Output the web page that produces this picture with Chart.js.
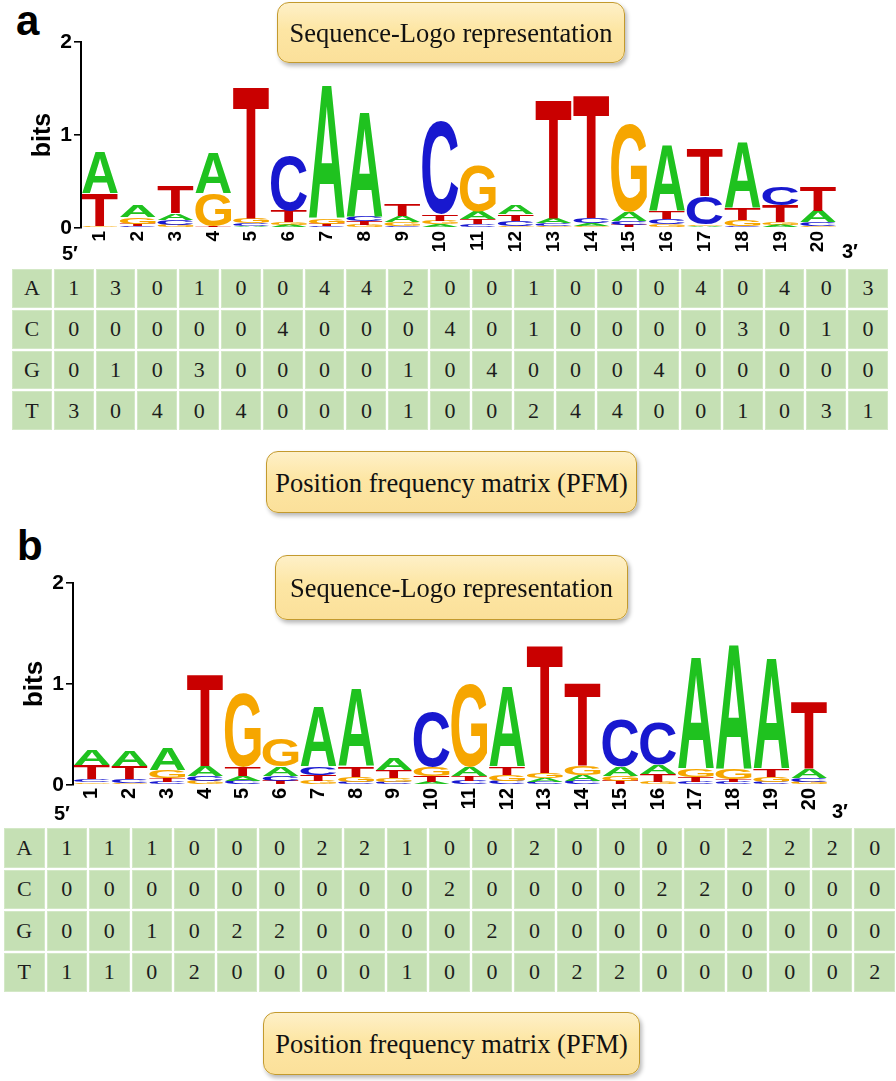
<!DOCTYPE html>
<html>
<head>
<meta charset="utf-8">
<script src="https://cdn.jsdelivr.net/npm/chart.js@4.4.0/dist/chart.umd.min.js"></script>
<style>
  html, body { margin: 0; padding: 0; background: #fff; }
  #wrap { position: relative; width: 896px; height: 1081px; overflow: hidden; background: #fff; }
  .abs { position: absolute; }
  .panel { font-family: "Liberation Sans", Arial, sans-serif; font-weight: bold; font-size: 42px; line-height: 1; color: #000; }
  .prime { font-family: "Liberation Sans", Arial, sans-serif; font-weight: bold; font-size: 20px; line-height: 1; color: #000; white-space: nowrap; }
  .box { box-sizing: border-box; border: 1.5px solid #c39a2e; border-radius: 12px;
         background: linear-gradient(to bottom, #fef0c8 0%, #fde6a4 45%, #fbe09a 100%);
         box-shadow: 2px 3px 4px rgba(0,0,0,0.28);
         display: flex; align-items: center; justify-content: center; padding-top: 2px;
         font-family: "Liberation Serif", "Times New Roman", serif; font-size: 26.5px; color: #111; white-space: nowrap; }
  .grid { display: grid; grid-template-columns: repeat(21, 1fr); grid-template-rows: repeat(4, 1fr); gap: 2px; background: #fff; }
  .cell { background: #c5e0b4; box-shadow: inset 0 0 0 1px #d3e8c6; display: flex; align-items: center; justify-content: center;
          font-family: "Liberation Serif", "Times New Roman", serif; font-size: 22px; color: #1c1c1c; }
  canvas { position: absolute; left: 0; }
</style>
</head>
<body>
<div id="wrap">
  <div class="abs panel" style="left:16px; top:0px;">a</div>
  <canvas id="logoA" width="896" height="245" style="top:20px;"></canvas>
  <div class="abs box" style="left:277px; top:2px; width:348px; height:61px;">Sequence-Logo representation</div>
  <div class="abs prime" style="left:62px; top:243px;">5′</div>
  <div class="abs prime" style="left:842px; top:241px;">3′</div>
  <div id="tableA" class="abs grid" style="left:12px; top:269px; width:876px; height:161px;"></div>
  <div class="abs box" style="left:266px; top:451px; width:371px; height:62px;">Position frequency matrix (PFM)</div>

  <div class="abs panel" style="left:17px; top:525px;">b</div>
  <canvas id="logoB" width="896" height="255" style="top:560px;"></canvas>
  <div class="abs box" style="left:275px; top:555px; width:353px; height:65px;">Sequence-Logo representation</div>
  <div class="abs prime" style="left:54px; top:803px;">5′</div>
  <div class="abs prime" style="left:832px; top:801px;">3′</div>
  <div id="tableB" class="abs grid" style="left:4px; top:828px; width:891px; height:164px;"></div>
  <div class="abs box" style="left:263px; top:1012px; width:377px; height:63px;">Position frequency matrix (PFM)</div>
</div>

<script>
// ---------- data ----------
const positions = ['1','2','3','4','5','6','7','8','9','10','11','12','13','14','15','16','17','18','19','20'];
const bases = ['A','C','G','T'];
const yTicks = [0, 1, 2];

// Panel a: letter heights in bits
const logoA_A = [0.44,0.12,0.07,0.43,0.02,0.03,1.43,1.12,0.07,0.04,0.08,0.10,0.05,0.03,0.10,0.71,0.02,0.70,0.03,0.12];
const logoA_C = [0.01,0.02,0.06,0.01,0.03,0.60,0.02,0.05,0.02,1.00,0.04,0.06,0.03,0.06,0.04,0.06,0.30,0.02,0.20,0.04];
const logoA_G = [0.01,0.07,0.03,0.35,0.06,0.03,0.06,0.03,0.04,0.04,0.50,0.02,0.02,0.02,0.95,0.04,0.02,0.07,0.03,0.02];
const logoA_T = [0.35,0.025,0.29,0.01,1.42,0.13,0.02,0.045,0.12,0.07,0.06,0.07,1.28,1.32,0.03,0.08,0.51,0.12,0.18,0.26];

// Panel b: letter heights in bits
const logoB_A = [0.15,0.15,0.21,0.10,0.05,0.09,0.58,0.76,0.12,0.03,0.09,0.79,0.04,0.06,0.09,0.09,1.10,1.22,1.08,0.09];
const logoB_C = [0.03,0.04,0.03,0.05,0.04,0.05,0.08,0.03,0.03,0.55,0.04,0.04,0.03,0.04,0.47,0.42,0.03,0.03,0.03,0.04];
const logoB_G = [0.025,0.02,0.08,0.04,0.73,0.27,0.04,0.05,0.035,0.09,0.82,0.06,0.05,0.09,0.05,0.03,0.08,0.10,0.05,0.03];
const logoB_T = [0.14,0.13,0.04,0.90,0.09,0.04,0.06,0.10,0.08,0.06,0.05,0.08,1.26,0.82,0.04,0.08,0.05,0.03,0.08,0.66];

// Position frequency matrices
const pfmA_A = [1,3,0,1,0,0,4,4,2,0,0,1,0,0,0,4,0,4,0,3];
const pfmA_C = [0,0,0,0,0,4,0,0,0,4,0,1,0,0,0,0,3,0,1,0];
const pfmA_G = [0,1,0,3,0,0,0,0,1,0,4,0,0,0,4,0,0,0,0,0];
const pfmA_T = [3,0,4,0,4,0,0,0,1,0,0,2,4,4,0,0,1,0,3,1];

const pfmB_A = [1,1,1,0,0,0,2,2,1,0,0,2,0,0,0,0,2,2,2,0];
const pfmB_C = [0,0,0,0,0,0,0,0,0,2,0,0,0,0,2,2,0,0,0,0];
const pfmB_G = [0,0,1,0,2,2,0,0,0,0,2,0,0,0,0,0,0,0,0,0];
const pfmB_T = [1,1,0,2,0,0,0,0,1,0,0,0,2,2,0,0,0,0,0,2];

const baseColors = { A: '#1fc21f', C: '#1818cf', G: '#f6a600', T: '#c90000' };

// ---------- logo letter drawing plugin ----------
const glyphCache = {};
function glyphMetrics(ctx, ch) {
  if (glyphCache[ch]) return glyphCache[ch];
  ctx.save();
  ctx.font = 'bold 200px "Liberation Sans", Arial, sans-serif';
  const m = ctx.measureText(ch);
  ctx.restore();
  const g = { l: m.actualBoundingBoxLeft, r: m.actualBoundingBoxRight, a: m.actualBoundingBoxAscent, d: m.actualBoundingBoxDescent };
  glyphCache[ch] = g;
  return g;
}
const logoLetters = {
  id: 'logoLetters',
  afterDatasetsDraw(chart) {
    const ctx = chart.ctx;
    chart.data.datasets.forEach((ds, di) => {
      const meta = chart.getDatasetMeta(di);
      meta.data.forEach((bar, i) => {
        const p = bar.getProps(['x', 'y', 'base', 'width'], true);
        const top = Math.min(p.y, p.base), h = Math.abs(p.base - p.y);
        if (h < 0.25) return;
        const ch = ds.letters[i];
        const g = glyphMetrics(ctx, ch);
        const gw = g.l + g.r, gh = g.a + g.d;
        ctx.save();
        ctx.translate(p.x - p.width / 2, top);
        ctx.scale(p.width / gw, h / gh);
        ctx.font = 'bold 200px "Liberation Sans", Arial, sans-serif';
        ctx.fillStyle = baseColors[ch];
        ctx.textAlign = 'left';
        ctx.textBaseline = 'alphabetic';
        ctx.fillText(ch, g.l, g.a);
        ctx.restore();
      });
    });
  }
};

function rankDatasets(hA, hC, hG, hT) {
  const cols = positions.map((_, i) => {
    const arr = [{b:'A', v:hA[i]}, {b:'C', v:hC[i]}, {b:'G', v:hG[i]}, {b:'T', v:hT[i]}];
    arr.sort((p, q) => p.v - q.v);
    return arr;
  });
  return [0,1,2,3].map(r => ({
    data: cols.map(c => c[r].v),
    letters: cols.map(c => c[r].b),
    backgroundColor: 'rgba(0,0,0,0)',
    borderWidth: 0,
    barPercentage: 0.95,
    categoryPercentage: 1.0
  }));
}

function makeLogo(id, heights, cfg) {
  const ctx = document.getElementById(id);
  return new Chart(ctx, {
    type: 'bar',
    data: { labels: positions, datasets: rankDatasets(...heights) },
    options: {
      responsive: false,
      animation: false,
      events: [],
      layout: { padding: { top: cfg.padTop, right: cfg.padRight, left: 0, bottom: 0 } },
      plugins: { legend: { display: false }, tooltip: { enabled: false } },
      scales: {
        x: {
          stacked: true,
          afterFit: s => { s.height = cfg.xHeight; },
          grid: { display: false, drawTicks: false },
          border: { display: false },
          ticks: { autoSkip: false, minRotation: 90, maxRotation: 90, padding: 3, color: '#000',
                   font: { family: '"Liberation Sans", Arial, sans-serif', weight: 'bold', size: cfg.xFont } }
        },
        y: {
          stacked: true, min: yTicks[0], max: yTicks[yTicks.length - 1],
          afterFit: s => { s.width = cfg.yWidth; },
          afterBuildTicks: s => { s.ticks = yTicks.map(v => ({ value: v })); },
          ticks: { padding: 2, color: '#000',
                   font: { family: '"Liberation Sans", Arial, sans-serif', weight: 'bold', size: 21 } },
          grid: { display: true, drawOnChartArea: false, drawTicks: true, tickLength: 7, color: '#000', lineWidth: 1.6 },
          border: { display: true, color: '#000', width: 2 },
          title: { display: true, text: 'bits', color: '#000', padding: { top: cfg.titlePad, bottom: 0 },
                   font: { family: '"Liberation Sans", Arial, sans-serif', weight: 'bold', size: cfg.titleFont } }
        }
      }
    },
    plugins: [logoLetters]
  });
}

makeLogo('logoA', [logoA_A, logoA_C, logoA_G, logoA_T],
  { padTop: 22, padRight: 59, xHeight: 37, yWidth: 81, xFont: 19, titlePad: 28, titleFont: 25 });
makeLogo('logoB', [logoB_A, logoB_C, logoB_G, logoB_T],
  { padTop: 23, padRight: 68, xHeight: 30, yWidth: 73, xFont: 20, titlePad: 19, titleFont: 26 });

// ---------- PFM tables ----------
function buildTable(id, rows) {
  const el = document.getElementById(id);
  bases.forEach((b, r) => {
    const lab = document.createElement('div');
    lab.className = 'cell';
    lab.textContent = b;
    el.appendChild(lab);
    rows[r].forEach(v => {
      const c = document.createElement('div');
      c.className = 'cell';
      c.textContent = String(v);
      el.appendChild(c);
    });
  });
}
buildTable('tableA', [pfmA_A, pfmA_C, pfmA_G, pfmA_T]);
buildTable('tableB', [pfmB_A, pfmB_C, pfmB_G, pfmB_T]);
</script>
</body>
</html>
